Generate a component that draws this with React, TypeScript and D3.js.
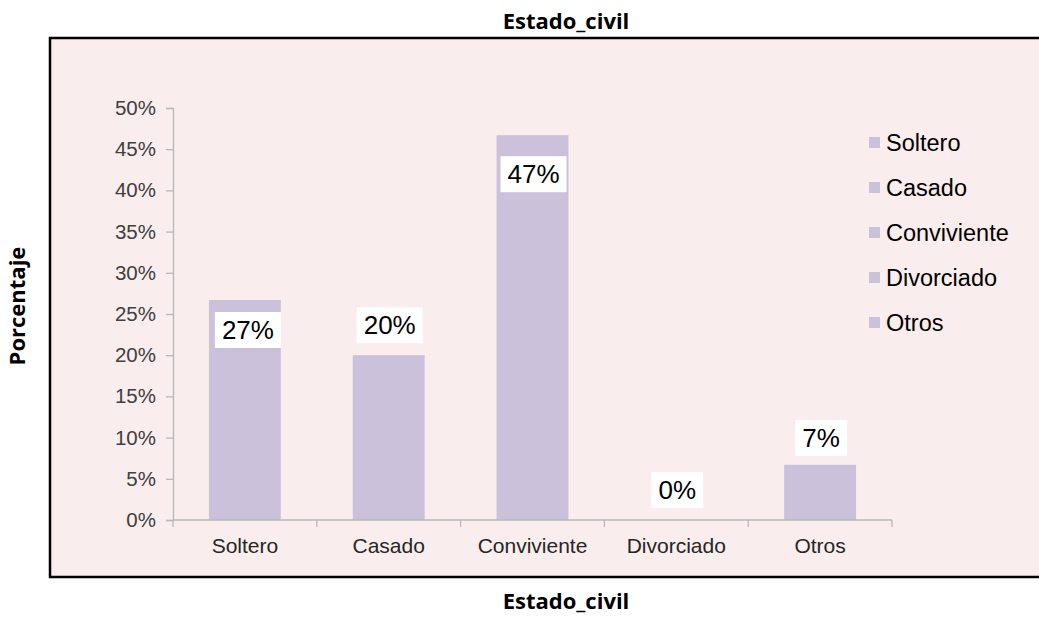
import { useEffect, useRef } from "react";
import * as d3 from "d3";

const categories = ["Soltero", "Casado", "Conviviente", "Divorciado", "Otros"];
const values = [26.7, 20.0, 46.7, 0, 6.7];
const labels = ["27%", "20%", "47%", "0%", "7%"];
const yTicks = [0, 5, 10, 15, 20, 25, 30, 35, 40, 45, 50];

// where each value label sits relative to the top of its bar (Excel placed them by hand)
const LABEL_DX = [3, 1, 1, 1, 1];
const LABEL_DY = [30, -30, 39, -30, -27];

const W = 1039;
const H = 617;
const PLOT = { left: 173, right: 892, top: 108, bottom: 520 };
const BG = "#faeded";
const BAR = "#ccc1da";
const AXIS = "#b8b8b8";

export default function App() {
  const gRef = useRef<SVGGElement>(null);

  useEffect(() => {
    if (!gRef.current) return;
    const g = d3.select(gRef.current);
    g.selectAll("*").remove();

    const x = d3
      .scaleBand<string>()
      .domain(categories)
      .range([PLOT.left, PLOT.right])
      .paddingInner(0.5)
      .paddingOuter(0.25);

    const y = d3.scaleLinear().domain([0, 50]).range([PLOT.bottom, PLOT.top]);

    /* frame */
    g.append("rect")
      .attr("x", 50)
      .attr("y", 38)
      .attr("width", W)
      .attr("height", 539)
      .attr("fill", BG)
      .attr("stroke", "#000")
      .attr("stroke-width", 2.5);

    /* y axis */
    const yAxis = g
      .append("g")
      .attr("transform", `translate(${PLOT.left},0)`)
      .call(
        d3
          .axisLeft(y)
          .tickValues(yTicks)
          .tickSize(7)
          .tickPadding(10)
          .tickFormat((d) => `${d}%`)
      );
    yAxis.selectAll(".domain, .tick line").attr("stroke", AXIS).attr("stroke-width", 1.3);
    yAxis
      .selectAll("text")
      .attr("fill", "#404040")
      .attr("font-family", "'Liberation Sans', Arial, sans-serif")
      .attr("font-size", 20.5);

    /* bars */
    g.selectAll("rect.bar")
      .data(values)
      .join("rect")
      .attr("class", "bar")
      .attr("x", (_, i) => x(categories[i])!)
      .attr("width", x.bandwidth())
      .attr("y", (d) => y(d))
      .attr("height", (d) => y(0) - y(d))
      .attr("fill", BAR);

    /* x axis: line with boundary ticks */
    const xa = g.append("g").attr("stroke", AXIS).attr("stroke-width", 1.3);
    xa.append("line")
      .attr("x1", PLOT.left)
      .attr("x2", PLOT.right)
      .attr("y1", y(0))
      .attr("y2", y(0));
    const step = x.step();
    const bounds = d3.range(categories.length + 1).map((i) => PLOT.left + i * step);
    xa.selectAll("line.tk")
      .data(bounds)
      .join("line")
      .attr("class", "tk")
      .attr("x1", (d) => d)
      .attr("x2", (d) => d)
      .attr("y1", y(0))
      .attr("y2", y(0) + 7);

    g.selectAll("text.cat")
      .data(categories)
      .join("text")
      .attr("class", "cat")
      .attr("x", (d) => x(d)! + x.bandwidth() / 2)
      .attr("y", 553)
      .attr("text-anchor", "middle")
      .attr("fill", "#262626")
      .attr("font-family", "'Liberation Sans', Arial, sans-serif")
      .attr("font-size", 21)
      .text((d) => d);

    /* value labels in white boxes */
    const lbl = g
      .selectAll("g.lbl")
      .data(values)
      .join("g")
      .attr("class", "lbl")
      .attr(
        "transform",
        (d, i) =>
          `translate(${x(categories[i])! + x.bandwidth() / 2 + LABEL_DX[i]},${y(d) + LABEL_DY[i]})`
      );
    lbl.each(function (_, i) {
      const el = d3.select(this);
      const rect = el.append("rect").attr("fill", "#fff");
      const t = el
        .append("text")
        .attr("text-anchor", "middle")
        .attr("dy", "0.35em")
        .attr("fill", "#000")
        .attr("font-family", "'Liberation Sans', Arial, sans-serif")
        .attr("font-size", 26)
        .text(labels[i]);
      const w = (t.node() as SVGTextElement).getComputedTextLength() + 14;
      rect.attr("x", -w / 2).attr("y", -18).attr("width", w).attr("height", 36);
    });

    /* legend */
    const leg = g
      .selectAll("g.leg")
      .data(categories)
      .join("g")
      .attr("class", "leg")
      .attr("transform", (_, i) => `translate(869,${143 + i * 45})`);
    leg
      .append("rect")
      .attr("y", -6)
      .attr("width", 11)
      .attr("height", 11)
      .attr("fill", BAR);
    leg
      .append("text")
      .attr("x", 17)
      .attr("dy", "0.35em")
      .attr("fill", "#000")
      .attr("font-family", "'Liberation Sans', Arial, sans-serif")
      .attr("font-size", 23.5)
      .text((d) => d);

    /* titles */
    const bold = "'Open Sans', Lato, sans-serif";
    g.append("text")
      .attr("x", 566)
      .attr("y", 29)
      .attr("text-anchor", "middle")
      .attr("font-family", bold)
      .attr("font-weight", 700)
      .attr("font-size", 22)
      .text("Estado_civil");
    g.append("text")
      .attr("x", 566)
      .attr("y", 609)
      .attr("text-anchor", "middle")
      .attr("font-family", bold)
      .attr("font-weight", 700)
      .attr("font-size", 22)
      .text("Estado_civil");
    g.append("text")
      .attr("transform", "translate(25,306) rotate(-90)")
      .attr("text-anchor", "middle")
      .attr("font-family", bold)
      .attr("font-weight", 700)
      .attr("font-size", 22)
      .text("Porcentaje");
  }, []);

  return (
    <div style={{ position: "absolute", left: 0, top: 0, width: W, height: H, background: "#fff" }}>
      <svg width={W} height={H} style={{ display: "block" }}>
        <g ref={gRef} />
      </svg>
    </div>
  );
}
